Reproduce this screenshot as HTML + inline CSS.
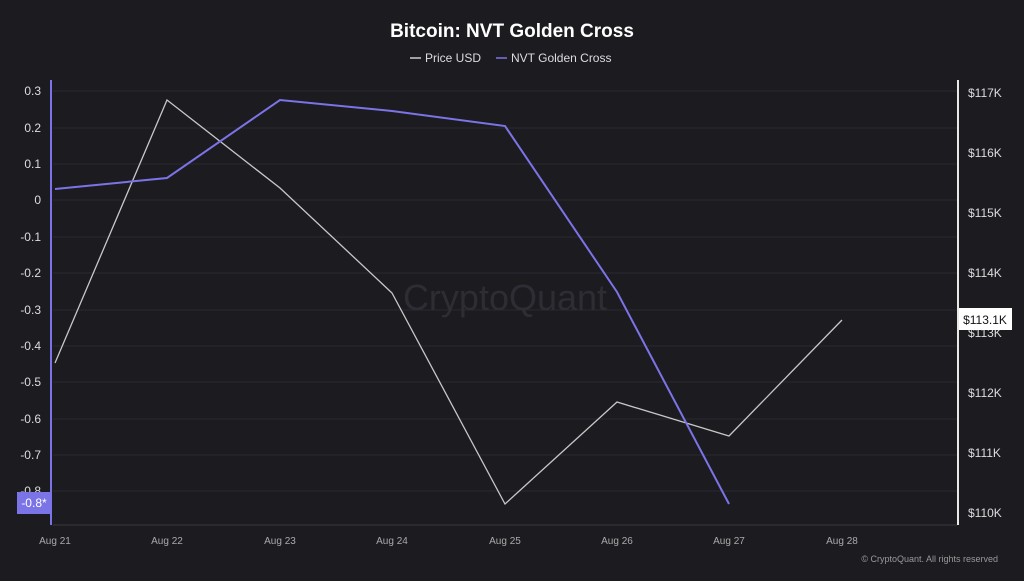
<!DOCTYPE html>
<html><head><meta charset="utf-8"><style>
body{margin:0;background:#1c1b20;width:1024px;height:576px;overflow:hidden;font-family:"Liberation Sans",sans-serif}
</style></head><body>
<svg width="1024" height="576" xmlns="http://www.w3.org/2000/svg" font-family="Liberation Sans, sans-serif">
<rect width="1024" height="576" fill="#1c1b20"/>
<text x="512" y="37" fill="#fff" font-size="19" font-weight="bold" text-anchor="middle">Bitcoin: NVT Golden Cross</text>
<line x1="410" y1="58" x2="421" y2="58" stroke="#ccc" stroke-width="1.5"/>
<text x="425" y="62" fill="#ddd" font-size="12">Price USD</text>
<line x1="496" y1="58" x2="507" y2="58" stroke="#7b74e6" stroke-width="1.5"/>
<text x="511" y="62" fill="#ddd" font-size="12">NVT Golden Cross</text>
<g stroke="#2a2930" stroke-width="1">
<line x1="53" x2="957" y1="91" y2="91"/><line x1="53" x2="957" y1="128" y2="128"/><line x1="53" x2="957" y1="164" y2="164"/><line x1="53" x2="957" y1="200" y2="200"/><line x1="53" x2="957" y1="237" y2="237"/><line x1="53" x2="957" y1="273" y2="273"/><line x1="53" x2="957" y1="310" y2="310"/><line x1="53" x2="957" y1="346" y2="346"/><line x1="53" x2="957" y1="382" y2="382"/><line x1="53" x2="957" y1="419" y2="419"/><line x1="53" x2="957" y1="455" y2="455"/><line x1="53" x2="957" y1="491" y2="491"/>
</g>
<line x1="53" x2="957" y1="525" y2="525" stroke="#3a3940"/>
<text x="505" y="310" fill="#2e2d33" font-size="36" text-anchor="middle">CryptoQuant</text>
<g fill="#ddd" font-size="12" text-anchor="end">
<text x="41" y="95">0.3</text><text x="41" y="132">0.2</text><text x="41" y="168">0.1</text><text x="41" y="204">0</text><text x="41" y="241">-0.1</text><text x="41" y="277">-0.2</text><text x="41" y="314">-0.3</text><text x="41" y="350">-0.4</text><text x="41" y="386">-0.5</text><text x="41" y="423">-0.6</text><text x="41" y="459">-0.7</text><text x="41" y="495">-0.8</text>
</g>
<g fill="#ddd" font-size="12">
<text x="968" y="97">$117K</text><text x="968" y="157">$116K</text><text x="968" y="217">$115K</text><text x="968" y="277">$114K</text><text x="968" y="337">$113K</text><text x="968" y="397">$112K</text><text x="968" y="457">$111K</text><text x="968" y="517">$110K</text>
</g>
<g fill="#aaa" font-size="10" text-anchor="middle">
<text x="55" y="544">Aug 21</text><text x="167" y="544">Aug 22</text><text x="280" y="544">Aug 23</text><text x="392" y="544">Aug 24</text><text x="505" y="544">Aug 25</text><text x="617" y="544">Aug 26</text><text x="729" y="544">Aug 27</text><text x="842" y="544">Aug 28</text>
</g>
<text x="998" y="562" fill="#999" font-size="9" text-anchor="end">© CryptoQuant. All rights reserved</text>
<line x1="51" y1="80" x2="51" y2="525" stroke="#7b74e6" stroke-width="2"/>
<line x1="958" y1="80" x2="958" y2="525" stroke="#e8e8e8" stroke-width="2"/>
<polyline fill="none" stroke="#c8c8c8" stroke-width="1.3" points="55,363 167,100 280,188 392,293 505,504 617,402 729,436 842,320"/>
<polyline fill="none" stroke="#7b74e6" stroke-width="2" points="55,189 167,178 280,100 392,111 505,126 617,292 729,504"/>
<rect x="17" y="492" width="34" height="22" fill="#7b74e6"/>
<text x="34" y="507" fill="#fff" font-size="12" text-anchor="middle">-0.8*</text>
<rect x="959" y="308" width="53" height="22" fill="#fff"/>
<text x="985" y="324" fill="#111" font-size="12" text-anchor="middle">$113.1K</text>
</svg>
</body></html>
